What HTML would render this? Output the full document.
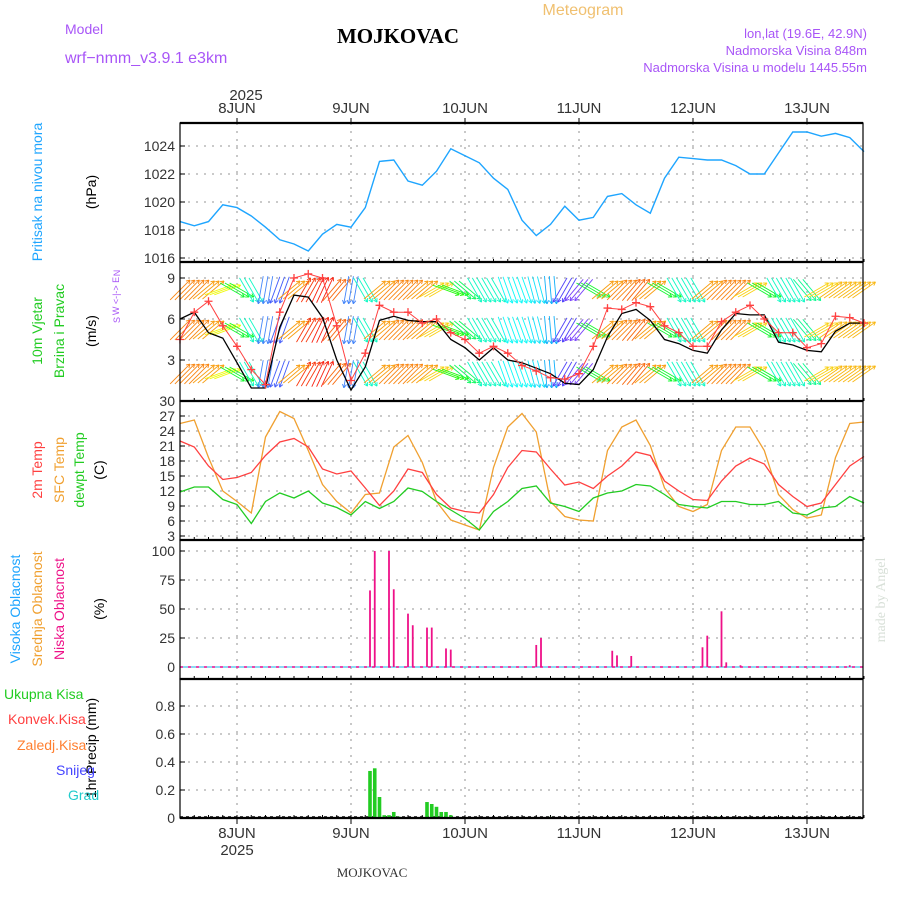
<!DOCTYPE html>
<html><head><meta charset="utf-8"><style>
body{margin:0;background:#fff;}
svg{display:block;font-family:"Liberation Sans",sans-serif;}
</style></head><body>
<svg id="c" width="900" height="900" viewBox="0 0 900 900">
<text x="65" y="34" fill="#a855f7" font-size="14">Model</text>
<text x="65" y="63" fill="#a855f7" font-size="16">wrf−nmm_v3.9.1  e3km</text>
<text x="398" y="43" text-anchor="middle" font-family="Liberation Serif,serif" font-weight="bold" font-size="21" fill="#000">MOJKOVAC</text>
<text x="583" y="15" text-anchor="middle" fill="#f0c070" font-size="16">Meteogram</text>
<text x="867" y="38" text-anchor="end" fill="#a855f7" font-size="13">lon,lat (19.6E, 42.9N)</text>
<text x="867" y="55" text-anchor="end" fill="#a855f7" font-size="13">Nadmorska Visina 848m</text>
<text x="867" y="72" text-anchor="end" fill="#a855f7" font-size="13">Nadmorska Visina u modelu 1445.55m</text>
<text x="246" y="100" text-anchor="middle" font-size="15" fill="#333">2025</text>
<text x="372" y="877" text-anchor="middle" font-family="Liberation Serif,serif" font-size="13" fill="#333">MOJKOVAC</text>
<text transform="translate(885,600) rotate(-90)" text-anchor="middle" font-family="Liberation Serif,serif" font-size="14" fill="#d8e0d8">made by Angel</text>
<g id="g"></g>
</svg>
<script>
// ---- data (3-hourly from 7 JUN 12 UTC) ----
const dayLabels=["8JUN","9JUN","10JUN","11JUN","12JUN","13JUN"];
const pressure=[1018.6,1018.3,1018.6,1019.8,1019.6,1019.0,1018.2,1017.3,1017.0,1016.5,1017.7,1018.4,1018.2,1019.6,1022.9,1023.0,1021.5,1021.2,1022.2,1023.8,1023.3,1022.8,1021.7,1020.9,1018.7,1017.6,1018.4,1019.7,1018.7,1018.9,1020.4,1020.6,1019.8,1019.2,1021.7,1023.2,1023.1,1023.0,1023.0,1022.6,1022.0,1022.0,1023.5,1025.0,1025.0,1024.7,1024.9,1024.6,1023.6];
const windSpeed=[6.0,6.5,5.0,4.6,2.8,0.95,0.95,5.4,7.75,7.6,6.1,3.0,0.8,2.5,5.9,6.2,5.9,5.8,5.8,4.5,3.9,3.0,3.9,3.0,2.8,2.4,2.0,1.3,1.2,2.3,4.7,6.4,6.7,5.9,4.5,4.2,3.7,3.5,5.2,6.4,6.3,6.3,4.3,4.1,3.7,3.6,5.1,5.7,5.7];
const windGust=[4.5,6.5,7.3,5.5,4.0,2.3,1.2,6.5,9.0,9.3,9.0,5.5,1.5,3.5,7.0,6.5,6.5,5.7,6.0,5.0,4.5,3.5,4.0,3.5,2.6,2.2,1.7,1.6,2.0,4.0,6.8,6.7,7.2,6.9,5.5,5.0,4.0,4.0,5.8,6.5,7.0,6.0,5.0,5.0,3.9,4.2,6.2,6.1,5.7];
const windDir=[45,45,40,20,-30,-60,-100,-110,40,60,65,50,-100,-60,40,45,45,40,30,-20,-40,-60,-60,-70,-70,-75,-85,-120,-130,-30,40,45,50,40,-30,-60,-60,40,45,45,30,-30,-60,-60,-50,30,35,35,35];
const temp2m=[22.0,20.8,17.0,14.3,14.7,15.7,19.1,21.8,22.5,20.8,16.4,15.4,16.0,12.6,9.1,12.0,16.4,15.7,11.3,8.6,7.9,7.6,11.3,16.7,20.1,19.8,16.4,13.2,13.8,12.5,15.0,17.0,19.8,19.1,14.0,12.0,10.3,10.1,14.0,17.0,18.6,17.4,13.3,10.9,8.9,9.6,13.3,17.0,18.9];
const tempSfc=[25.5,26.2,18.7,12.0,9.9,7.6,22.8,27.9,26.5,20.1,13.3,9.9,7.6,11.3,11.6,20.8,23.1,17.7,9.9,6.2,5.2,4.2,16.7,24.8,27.5,23.8,9.9,6.9,6.2,6.0,20.1,24.8,26.2,21.1,12.6,8.9,7.9,9.3,20.1,24.8,24.8,20.1,11.3,8.3,6.6,7.2,18.7,25.5,25.8];
const tempDew=[11.8,12.8,12.8,10.3,9.3,5.5,9.9,11.6,10.6,12.0,9.6,8.7,7.2,9.9,8.5,9.9,12.6,11.9,9.9,8.2,6.5,4.2,7.9,9.9,12.5,13.0,9.6,8.9,7.9,10.6,11.6,12.0,13.3,13.0,11.3,9.3,8.9,8.6,9.9,9.9,9.3,9.3,9.9,7.6,7.2,8.6,8.9,10.9,9.6];
const cloudHours=[40,41,44,45,48,49,52,53,56,57,75,76,91,92,95,110,111,114,115,118,141];
const lowCloud=[66,100,100,67,46,36,34,34,16,15,19,25,14,10,9.5,17,27,48,4,1.5,1.5];
const precipHours=[40,41,42,43,44,45,46,52,53,54,55,56,57,78,113];
const precipVals=[0.336,0.355,0.15,0.02,0.02,0.043,0.01,0.114,0.1,0.08,0.043,0.043,0.02,0.008,0.008];
const pTicks=[1016,1018,1020,1022,1024];
const wTicks=[3,6,9];
const tTicks=[3,6,9,12,15,18,21,24,27,30];
const cTicks=[0,25,50,75,100];
const rTicks=[0,0.2,0.4,0.6,0.8];

const NS="http://www.w3.org/2000/svg";
const G=document.getElementById('g');
function mk(tag,attrs,parent){const e=document.createElementNS(NS,tag);for(const k in attrs)e.setAttribute(k,attrs[k]);(parent||G).appendChild(e);return e;}
const X0=180,X1=863;
const xH=h=>X0+h*4.75;
const xK=k=>xH(k*3);
const panels=[{t:123,b:262},{t:262,b:401},{t:401,b:540},{t:540,b:679},{t:679,b:818}];
const yP=v=>258-(v-1016)*14;
const yW=v=>401-v*13.667;
const yT=v=>401+(30-v)*5;
const yC=v=>667-v*1.16;
const yR=v=>818-v*140;

function hgrid(y,name){const l=mk('line',{x1:X0,x2:X1,y1:y,y2:y,stroke:'#aaa','stroke-dasharray':'2,6','stroke-width':1.3});

}
function tick(x,y,txt,name){const t=mk('text',{x:x,y:y+5,'text-anchor':'end','font-size':14,fill:'#333'});t.textContent=txt;


mk('line',{x1:X0,x2:X0+5,y1:y,y2:y,stroke:'#000'});}
pTicks.forEach(v=>{hgrid(yP(v),'pressure-gridline');tick(175,yP(v),v,'pressure-tick');});
wTicks.forEach(v=>{hgrid(yW(v),'wind-gridline');tick(175,yW(v),v,'wind-tick');});
tTicks.forEach(v=>{hgrid(yT(v),'temp-gridline');tick(175,yT(v),v,'temp-tick');});
cTicks.forEach(v=>{hgrid(yC(v),'cloud-gridline');tick(175,yC(v),v,'cloud-tick');});
rTicks.forEach(v=>{hgrid(yR(v),'precip-gridline');tick(175,yR(v),v===0?'0':v.toFixed(1),'precip-tick');});
dayLabels.forEach((d,i)=>{const x=xH(12+24*i);
 const l=mk('line',{x1:x,x2:x,y1:123,y2:818,stroke:'#aaa','stroke-dasharray':'2,6','stroke-width':1.3});
 
 
 const a=mk('text',{x:x,y:113,'text-anchor':'middle','font-size':15,fill:'#333'});a.textContent=d;
 
 
 const b=mk('text',{x:x,y:838,'text-anchor':'middle','font-size':15,fill:'#333'});b.textContent=d;
 
 
 mk('line',{x1:x,x2:x,y1:118,y2:123,stroke:'#000'});mk('line',{x1:x,x2:x,y1:818,y2:824,stroke:'#000'});
});
{const y=mk('text',{x:xH(12),y:855,'text-anchor':'middle','font-size':15,fill:'#333'});y.textContent='2025';

}
for(let h=0;h<=144;h+=3){const x=xH(h);panels.forEach(p=>{mk('line',{x1:x,x2:x,y1:p.b,y2:p.b-3,stroke:'#000'});});}

function poly(vals,xf,yf,color,name,w){const pts=vals.map((v,i)=>xf(i).toFixed(1)+','+yf(v).toFixed(1)).join(' ');
 const p=mk('polyline',{points:pts,fill:'none',stroke:color,'stroke-width':w||1.3});
 
 return p;}

poly(pressure,xK,yP,'#1ea5ff','pressure-line',1.4);

// wind arrows
const rows=[290,330,374];
function hue(a){let h=30-(a-45)*1.3;return ((h%360)+360)%360;}
rows.forEach((ry,ri)=>{windDir.forEach((a,k)=>{for(let s=-1;s<=1;s++){
 if(k===0&&s<0)continue;if(k===windDir.length-1&&s>0)continue;
 const x=xK(k)+s*4.75;const r=a*Math.PI/180;const L=28;
 const dx=Math.cos(r)*L/2,dy=-Math.sin(r)*L/2;
 const hh=hue(a);
 const col='hsl('+hh+',95%,'+(hh>200&&hh<300?62:52)+'%)';
 const ln=mk('line',{x1:(x-dx).toFixed(1),y1:(ry-dy).toFixed(1),x2:(x+dx).toFixed(1),y2:(ry+dy).toFixed(1),stroke:col,'stroke-width':0.9});
 
 
 const hx=x+dx,hy=ry+dy,hl=4;
 [150,-150].forEach(o=>{const rr=r+o*Math.PI/180;mk('line',{x1:hx.toFixed(1),y1:hy.toFixed(1),x2:(hx+Math.cos(rr)*hl).toFixed(1),y2:(hy-Math.sin(rr)*hl).toFixed(1),stroke:col,'stroke-width':0.9});});
}});});
poly(windSpeed,xK,yW,'#000','wind-speed-line',1.3);
poly(windGust,xK,yW,'#ff4040','wind-gust-line',1);
windGust.forEach((v,k)=>{const x=xK(k),y=yW(v);const g=mk('path',{d:`M${x-4},${y}h8M${x},${y-4}v8`,stroke:'#ff4040','stroke-width':1.3});
 
 });

poly(tempSfc,xK,yT,'#f0a030','sfc-temp-line');
poly(temp2m,xK,yT,'#ff4040','temp-2m-line');
poly(tempDew,xK,yT,'#22cc22','dewpoint-line');

mk('line',{x1:X0,x2:X1,y1:yC(0),y2:yC(0),stroke:'#66ccee','stroke-width':1.5});
mk('line',{x1:X0,x2:X1,y1:yC(0),y2:yC(0),stroke:'#ff1493','stroke-width':1.5,'stroke-dasharray':'3,5'});
cloudHours.forEach((h,i)=>{const x=xH(h);const b=mk('rect',{x:x-0.9,y:yC(lowCloud[i]),width:1.8,height:yC(0)-yC(lowCloud[i]),fill:'#ee1188'});
 
 });

mk('line',{x1:X0,x2:X1,y1:817,y2:817,stroke:'#000','stroke-dasharray':'3,3','stroke-width':1.5});
precipHours.forEach((h,i)=>{const x=xH(h);const b=mk('rect',{x:x-1.8,y:yR(precipVals[i]),width:3.6,height:818-yR(precipVals[i]),fill:'#22cc22'});
 
 });

panels.forEach((p,i)=>{const r=mk('rect',{x:X0,y:p.t,width:X1-X0,height:p.b-p.t,fill:'none',stroke:'#000','stroke-width':1.2});
 
 
 mk('line',{x1:X0,x2:X1,y1:p.t,y2:p.t,stroke:'#000','stroke-width':2.2});});
mk('line',{x1:X0,x2:X1,y1:818,y2:818,stroke:'#000','stroke-width':2.2});

function vlab(x,y,txt,col,name,fs){const t=mk('text',{transform:`translate(${x},${y}) rotate(-90)`,'text-anchor':'middle','font-size':fs||14,fill:col});t.textContent=txt;
 
 }
vlab(42,192,'Pritisak na nivou mora','#1ea5ff','pressure-axis-title');
vlab(96,192,'(hPa)','#000','pressure-unit');
vlab(42,331,'10m Vjetar','#22cc22','wind-axis-title');
vlab(64,331,'Brzina i Pravac','#22cc22','wind-axis-subtitle');
vlab(96,331,'(m/s)','#000','wind-unit');
vlab(42,470,'2m Temp','#ff4040','temp-2m-legend');
vlab(64,470,'SFC Temp','#f0a030','sfc-temp-legend');
vlab(84,470,'dewpt Temp','#22cc22','dewpoint-legend');
vlab(104,470,'(C)','#000','temp-unit');
vlab(20,609,'Visoka Oblacnost','#1ea5ff','high-cloud-legend');
vlab(42,609,'Srednja Oblacnost','#f0a030','mid-cloud-legend');
vlab(64,609,'Niska Oblacnost','#ee1188','low-cloud-legend');
vlab(104,609,'(%)','#000','cloud-unit');
vlab(96,748,'1hr Precip (mm)','#000','precip-axis-title');
[['Ukupna Kisa','#22cc22',699,4],['Konvek.Kisa','#ff4040',724,8],['Zaledj.Kisa','#ff7f30',750,17],['Snijeg','#4444ff',775,56],['Grad','#22cccc',800,68]].forEach(a=>{
 const t=mk('text',{x:a[3],y:a[2],'font-size':14,fill:a[1]});t.textContent=a[0];
 
 });
[['N',120,273],['W <-|-> E',119,296],['S',120,320]].forEach(a=>{const t=mk('text',{transform:`translate(${a[1]},${a[2]}) rotate(-90)`,'text-anchor':'middle','font-size':9,fill:'#a855f7'});t.textContent=a[0];
 
 });
</script>
</body></html>
